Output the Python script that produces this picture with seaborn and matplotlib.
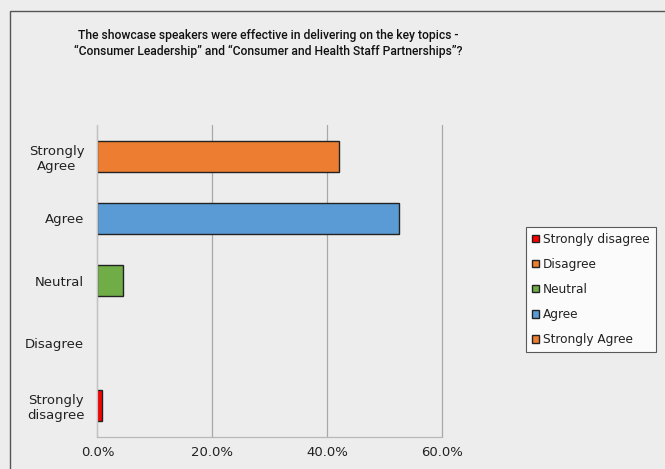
import matplotlib
matplotlib.use("Agg")
import matplotlib.pyplot as plt
from matplotlib.patches import Patch, Rectangle
from matplotlib.ticker import PercentFormatter
import seaborn as sns
import pandas as pd

# Survey responses (percent of respondents)
categories = ["Strongly Agree", "Agree", "Neutral", "Disagree", "Strongly disagree"]
tick_labels = ["Strongly\nAgree", "Agree", "Neutral", "Disagree", "Strongly\ndisagree"]
percentages = [42.1, 52.6, 4.5, 0.0, 0.8]
legend_order = ["Strongly disagree", "Disagree", "Neutral", "Agree", "Strongly Agree"]
colors = {
    "Strongly disagree": "#FF0000",
    "Disagree": "#ED7D31",
    "Neutral": "#70AD47",
    "Agree": "#5B9BD5",
    "Strongly Agree": "#ED7D31",
}
title = ("The showcase speakers were effective in delivering on the key topics -\n"
         "\u201cConsumer Leadership\u201d and \u201cConsumer and Health Staff Partnerships\u201d?")

df = pd.DataFrame({"response": categories, "pct": percentages})

sns.set_theme(style="white")
plt.rcParams["font.family"] = ["DejaVu Sans"]

bg = "#EDEDED"
fig = plt.figure(figsize=(6.65, 4.69), dpi=100, facecolor=bg)
ax = fig.add_axes([0.1466, 0.0689, 0.518, 0.6646])
ax.set_facecolor(bg)

sns.barplot(data=df, y="response", x="pct", hue="response", order=categories,
            hue_order=categories, palette=colors, dodge=False, width=0.5,
            saturation=1, edgecolor="#222222", linewidth=1.0, legend=False, ax=ax)

# Empty categories get no visible bar outline
for bar in ax.patches:
    if bar.get_width() == 0:
        bar.set_visible(False)

ax.set_xlim(0, 60)
ax.set_ylim(4.5, -0.5)
ax.set_xticks([0, 20, 40, 60])
ax.xaxis.set_major_formatter(PercentFormatter(decimals=1))
ax.set_yticks(range(len(categories)))
ax.set_yticklabels(tick_labels, ha="right")
ax.set_yticks([i - 0.5 for i in range(len(categories) + 1)], minor=True)
ax.tick_params(axis="y", which="major", length=0, pad=9.5, labelsize=9.5, labelcolor="#222222")
ax.tick_params(axis="y", which="minor", length=4, color="#BBBBBB", width=0.8)
ax.tick_params(axis="x", which="major", length=3, color="#AAAAAA", labelsize=9.5,
               labelcolor="#222222", pad=4)
ax.set_xlabel("")
ax.set_ylabel("")
ax.grid(axis="x", color="#A8A8A8", linewidth=0.9)
for gl in ax.get_xgridlines():
    gl.set_clip_on(False)
ax.set_axisbelow(True)
for s in ["top", "right"]:
    ax.spines[s].set_visible(False)
ax.spines["left"].set_color("#C4C4C4")
ax.spines["bottom"].set_color("#B8B8B8")
ax.spines["left"].set_linewidth(0.9)
ax.spines["bottom"].set_linewidth(0.9)

for lbl in ax.get_yticklabels():
    lbl.set_multialignment("center")

fig.text(0.403, 0.908, title, ha="center", va="center", fontsize=8.75,
         fontweight="medium", family="Roboto", color="#111111",
         linespacing=1.25)

handles = [Patch(facecolor=colors[c], edgecolor="#222222", linewidth=1.0, label=c)
           for c in legend_order]
leg = fig.legend(handles=handles, loc="center left", bbox_to_anchor=(0.791, 0.383),
                 frameon=True, fancybox=False, fontsize=8.7, handlelength=0.6,
                 handleheight=0.6, handletextpad=0.3, labelspacing=1.0,
                 borderpad=0.5, borderaxespad=0)
leg.get_frame().set_edgecolor("#333333")
leg.get_frame().set_linewidth(0.8)
leg.get_frame().set_facecolor("white")
for t in leg.get_texts():
    t.set_color("#222222")

# Outer frame of the chart area
fig.patches.append(Rectangle((10 / 665, -0.1), 1.2, 1.0 - 11 / 469 + 0.1,
                             transform=fig.transFigure, fill=False,
                             edgecolor="#555555", linewidth=1.0))

fig.savefig("out.png", dpi=100, facecolor=bg)
